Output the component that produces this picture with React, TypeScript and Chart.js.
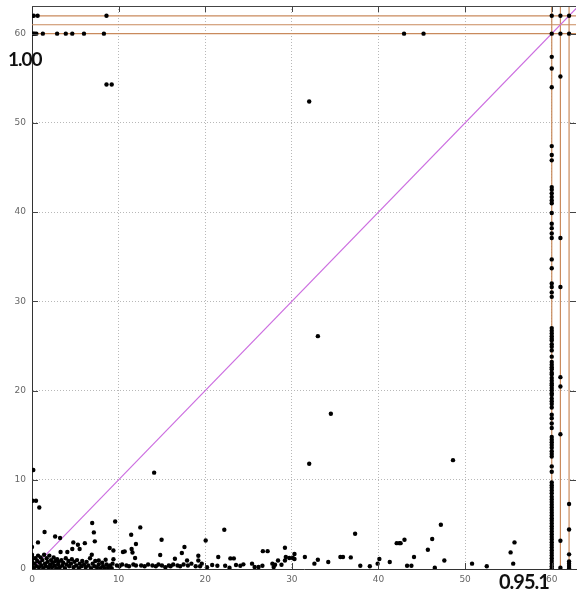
import React, { useEffect, useRef } from "react";
import { Chart, registerables } from "chart.js";

Chart.register(...registerables);

// ---- axis ticks ----
const xTicks = [0, 10, 20, 30, 40, 50, 60];
const yTicks = [0, 10, 20, 30, 40, 50, 60];
const X_MAX = 62.8;
const Y_MAX = 63.1;

// ---- reference lines ----
const refLines = [60, 61, 62];
const diagonal = [0, 70];

// ---- big annotation labels ----
const labelLeft = "1.00";
const labelBottom = "0.95.1";

// ---- points on the row y = 60 (x values) ----
const row60X = [0, 0.15, 0.3, 0.5, 1.25, 2.9, 3.9, 4.65, 6.0, 8.3, 42.95, 45.2, 60, 61, 62];
// ---- points on the row y = 62 (x values) ----
const row62X = [0.2, 0.65, 8.6, 60, 61, 62];

// ---- points on column x = 60 (y values) ----
const col60Y = [
  57.4, 56.1, 54.0, 47.4, 46.4, 45.8, 42.8, 42.5, 42.1, 41.7, 41.3, 41.0, 39.9, 38.7, 38.2, 37.6, 37.1,
  34.7, 33.7, 32.0, 31.6, 31.0, 30.5, 27.0, 26.7, 26.4, 26.1, 25.8, 25.6, 25.2, 24.9, 24.5, 23.8,
  23.2, 22.9, 22.6, 22.4, 22.0, 21.8, 21.4, 21.1, 20.8, 20.6, 20.3, 20.0, 19.7, 19.5, 19.1, 18.8,
  18.5, 18.1, 17.3, 16.9, 16.3, 15.8, 14.8, 14.5, 14.2, 13.9, 13.6, 13.2, 12.9, 12.6, 11.5, 10.9,
  9.7, 9.4, 9.1, 8.8, 8.5, 8.1, 7.8, 7.5, 7.2, 6.9, 6.6, 6.3, 6.0, 5.7, 5.4, 5.1, 4.8, 4.5, 4.2,
  3.9, 3.6, 3.3, 3.0, 2.7, 2.4, 2.1, 1.8, 1.5, 1.2, 0.9, 0.6, 0.3, 0.05,
];
// ---- points on column x = 61 ----
const col61Y = [55.2, 37.1, 31.6, 21.5, 20.45, 15.1, 3.17, 0.15];
// ---- points on column x = 62 ----
const col62Y = [7.28, 4.43, 1.64, 0.85, 0.6, 0.35, 0.1];

// ---- scattered points (x, y) ----
const upperX = [8.6, 9.2, 32.0, 33.0, 34.5, 32.0, 48.6, 14.1, 0.15, 0.07, 0.46, 0.84];
const upperY = [54.3, 54.3, 52.4, 26.1, 17.4, 11.8, 12.2, 10.8, 11.1, 7.65, 7.65, 6.9];

const midX = [
  0, 0.69, 1.45, 2.67, 3.24, 3.3, 4.08, 4.77, 4.65, 5.3, 5.5, 6.1, 6.95, 7.14, 7.25, 6.9, 7.7, 8.5,
  8.97, 9.4, 9.6, 9.4, 10.7, 10.5, 11.45, 11.5, 11.6, 11.9, 12.0, 12.5, 14.96, 14.8, 16.5, 17.3, 17.6,
  17.9, 19.2, 19.2, 19.4, 20.05, 22.2, 21.5, 22.9, 23.3, 20.8, 21.4, 22.3, 22.8, 23.55, 24.05, 24.4,
  25.4, 25.7, 26.15, 26.6, 27.75, 27.9, 28.06, 28.4, 26.65, 27.2, 29.2, 29.3, 29.7, 30.1, 30.3,
  28.8, 29.2, 30.3, 31.5, 32.6, 33.0, 34.2, 35.6, 35.9, 36.8, 37.3, 37.9, 39.0, 39.9, 40.1, 41.3,
  42.1, 42.4, 42.55, 43.0, 43.3, 43.8, 44.1, 45.7, 46.2, 46.5, 47.2, 47.6, 50.8, 52.5, 55.25, 55.7, 55.55,
];
const midY = [
  2.46, 2.98, 4.14, 3.65, 3.47, 1.9, 1.9, 2.98, 2.24, 2.72, 2.24, 2.9, 5.15, 4.1, 3.1, 1.6, 0.96, 1.04,
  2.35, 2.08, 5.33, 1.1, 1.97, 1.9, 3.84, 2.24, 1.85, 1.23, 2.8, 4.66, 3.28, 1.57, 1.15, 1.79, 2.46,
  0.96, 1.49, 0.96, 0.3, 3.2, 4.4, 1.34, 1.19, 1.19, 0.45, 0.37, 0.37, 0.15, 0.45, 0.37, 0.52,
  0.6, 0.22, 0.22, 0.37, 0.6, 0.22, 0.48, 0.96, 2.0, 2.0, 2.38, 1.34, 1.23, 1.23, 1.68,
  0.48, 0.96, 1.12, 1.34, 0.6, 1.04, 0.78, 1.34, 1.34, 1.3, 3.95, 0.37, 0.3, 0.6, 1.12, 0.78,
  2.9, 2.9, 2.9, 3.28, 0.37, 0.37, 1.34, 2.16, 3.36, 0.15, 4.96, 0.96, 0.6, 0.3, 1.86, 2.98, 0.6,
];

const lowX = [
  0, 0, 0, 0, 0, 0, 0.2, 0.3, 0.4, 0.5, 0.6, 0.7, 0.8, 0.9, 1.0,
  1.1, 1.2, 1.3, 1.4, 1.5, 1.6, 1.7, 1.8, 1.9, 2.0, 2.1, 2.2, 2.3, 2.4, 2.5, 2.6, 2.7, 2.8, 2.9, 3.0,
  3.1, 3.2, 3.4, 3.5, 3.6, 3.8, 3.9, 4.0, 4.2, 4.3, 4.5, 4.6, 4.8, 4.9, 5.1, 5.2, 5.4, 5.5, 5.7, 5.8, 6.0,
  6.2, 6.3, 6.5, 6.7, 6.8, 7.0, 7.2, 7.3, 7.5, 7.7, 7.9, 8.1, 8.2, 8.4, 8.6, 8.8, 9.0, 9.2, 9.3,
  9.8, 10.1, 10.4, 10.9, 11.2, 11.7, 12.0, 12.6, 13.0, 13.4, 13.9, 14.3, 14.6, 15.0, 15.4, 15.8, 16.0,
  16.3, 16.8, 17.1, 17.5, 18.0, 18.4, 18.9, 19.6, 20.2,
];
const lowY = [
  0.2, 0.5, 0.8, 1.1, 1.4, 1.6, 0.1, 0.6, 1.2, 0.3, 0.9, 1.5, 0.2, 0.7, 1.3,
  0.4, 1.0, 0.1, 1.6, 0.6, 0.3, 1.2, 0.8, 0.2, 1.5, 0.5, 1.0, 0.2, 0.7, 1.3, 0.4, 0.9, 0.1, 1.1, 0.5,
  0.8, 0.2, 1.0, 0.4, 0.7, 0.1, 1.2, 0.5, 0.9, 0.3, 0.6, 1.1, 0.2, 0.8, 0.4, 1.0, 0.1, 0.6, 0.3, 0.9, 0.5,
  0.2, 0.8, 0.4, 1.2, 0.1, 0.6, 0.3, 0.9, 0.2, 0.5, 0.1, 0.7, 0.3, 0.1, 0.5, 0.2, 0.4, 0.1, 0.6,
  0.4, 0.3, 0.5, 0.4, 0.3, 0.5, 0.4, 0.4, 0.3, 0.5, 0.4, 0.3, 0.5, 0.4, 0.2, 0.4, 0.3,
  0.5, 0.4, 0.3, 0.5, 0.4, 0.6, 0.3, 0.6, 0.2,
];

const ORANGE = "#c98a5c";
const MAGENTA = "#cc6ee0";

function pairs(xs: number[], ys: number[]) {
  return xs.map((x, i) => ({ x, y: ys[i] }));
}

const decorPlugin = {
  id: "decor",
  afterDatasetsDraw(chart: any) {
    const { ctx, chartArea: a, scales } = chart;
    const xs = scales.x;
    const ys = scales.y;
    ctx.save();
    ctx.strokeStyle = "#444";
    ctx.lineWidth = 1;
    ctx.beginPath();
    ctx.moveTo(a.left, a.top + 0.5);
    ctx.lineTo(a.right, a.top + 0.5);
    ctx.stroke();
    const tl = 6;
    ctx.beginPath();
    xTicks.slice(1).forEach((v) => {
      const px = Math.round(xs.getPixelForValue(v)) + 0.5;
      ctx.moveTo(px, a.bottom);
      ctx.lineTo(px, a.bottom - tl);
      ctx.moveTo(px, a.top);
      ctx.lineTo(px, a.top + tl);
    });
    yTicks.slice(1).forEach((v) => {
      const py = Math.round(ys.getPixelForValue(v)) + 0.5;
      ctx.moveTo(a.left, py);
      ctx.lineTo(a.left + tl, py);
      ctx.moveTo(a.right, py);
      ctx.lineTo(a.right - tl, py);
    });
    ctx.stroke();
    ctx.restore();
  },
  afterDraw(chart: any) {
    const { ctx, chartArea: a } = chart;
    ctx.save();
    ctx.fillStyle = "#111";
    ctx.textAlign = "left";
    ctx.textBaseline = "alphabetic";
    (ctx as any).letterSpacing = "-1px";
    ctx.font = "bold 19px Lato";
    ctx.fillText(labelLeft, 8, a.top + 59.5);
    ctx.font = "bold 20px Lato";
    ctx.fillText(labelBottom, a.left + 467, a.bottom + 19.5);
    ctx.restore();
  },
};

function zeroPad(s: any) {
  s.paddingTop = 0;
  s.paddingBottom = 0;
  s.paddingLeft = 0;
  s.paddingRight = 0;
}

export default function App() {
  const ref = useRef<HTMLCanvasElement | null>(null);
  useEffect(() => {
    document.body.style.margin = "0";
    const points = [
      ...row60X.map((x) => ({ x, y: 60 })),
      ...row62X.map((x) => ({ x, y: 62 })),
      ...col60Y.map((y) => ({ x: 60, y })),
      ...col61Y.map((y) => ({ x: 61, y })),
      ...col62Y.map((y) => ({ x: 62, y })),
      ...pairs(upperX, upperY),
      ...pairs(midX, midY),
      ...pairs(lowX, lowY),
    ];
    const lineDs: any[] = [];
    refLines.forEach((v) => {
      lineDs.push({
        data: [{ x: -5, y: v }, { x: 80, y: v }],
        showLine: true, borderColor: ORANGE, borderWidth: 1.2, pointRadius: 0, order: 3,
      });
      lineDs.push({
        data: [{ x: v, y: -5 }, { x: v, y: 80 }],
        showLine: true, borderColor: ORANGE, borderWidth: 1.2, pointRadius: 0, order: 3,
      });
    });
    const chart = new Chart(ref.current as HTMLCanvasElement, {
      type: "scatter",
      data: {
        datasets: [
          {
            data: points,
            pointRadius: 2.2,
            pointBackgroundColor: "#000",
            pointBorderWidth: 0,
            order: 1,
          },
          {
            data: diagonal.map((v) => ({ x: v, y: v })),
            showLine: true, borderColor: MAGENTA, borderWidth: 1.2, pointRadius: 0, order: 2,
          },
          ...lineDs,
        ],
      },
      options: {
        animation: false,
        responsive: false,
        devicePixelRatio: 1,
        layout: { padding: { top: 6, right: 0, left: 0, bottom: 0 } },
        plugins: { legend: { display: false }, tooltip: { enabled: false } },
        scales: {
          x: {
            type: "linear",
            min: 0,
            max: X_MAX,
            afterFit: (s: any) => { s.height = 22; zeroPad(s); },
            afterBuildTicks: (s: any) => { s.ticks = xTicks.map((v) => ({ value: v })); },
            ticks: {
              includeBounds: false,
              padding: 5,
              color: "#666",
              font: { family: "DejaVu Sans", size: 9 },
              maxRotation: 0,
            },
            grid: { color: "#b8b8b8", drawTicks: false, lineWidth: 1 },
            border: { display: true, color: "#333", width: 1, dash: [1, 2] },
          },
          y: {
            type: "linear",
            min: 0,
            max: Y_MAX,
            afterFit: (s: any) => { s.width = 32; zeroPad(s); },
            afterBuildTicks: (s: any) => { s.ticks = yTicks.map((v) => ({ value: v })); },
            ticks: {
              includeBounds: false,
              padding: 6,
              color: "#666",
              font: { family: "DejaVu Sans", size: 9 },
            },
            grid: { color: "#b8b8b8", drawTicks: false, lineWidth: 1 },
            border: { display: true, color: "#333", width: 1, dash: [1, 2] },
          },
        },
      },
      plugins: [decorPlugin],
    } as any);
    return () => chart.destroy();
  }, []);
  return (
    <div style={{ position: "fixed", left: 0, top: 0, width: 580, height: 591, background: "#fff" }}>
      <canvas ref={ref} width={580} height={591} />
    </div>
  );
}
